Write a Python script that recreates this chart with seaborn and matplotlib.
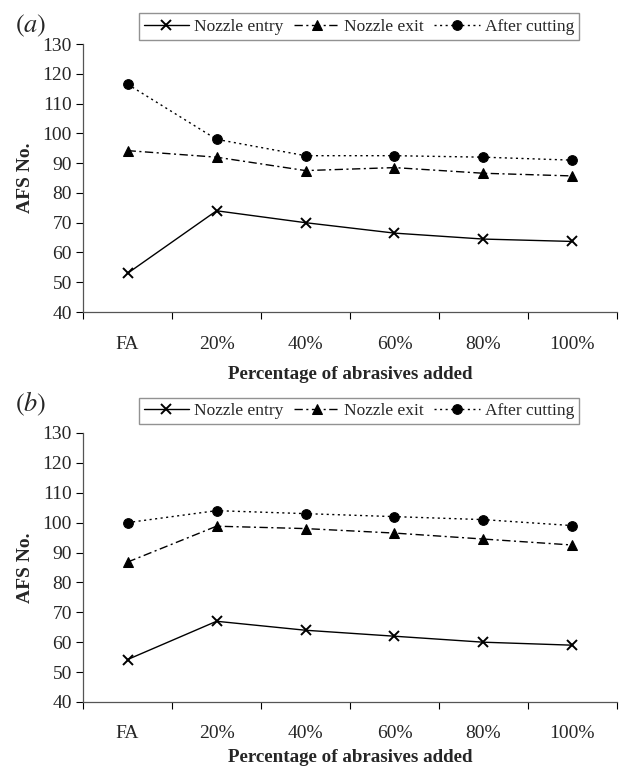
import numpy as np
import pandas as pd
import seaborn as sns
import matplotlib
matplotlib.use("Agg")
import matplotlib.pyplot as plt

categories = ["FA", "20%", "40%", "60%", "80%", "100%"]
series_names = ["Nozzle entry", "Nozzle exit", "After cutting"]

a_entry = [53, 74, 70, 66.5, 64.5, 63.7]
a_exit = [94.2, 92, 87.5, 88.5, 86.6, 85.7]
a_after = [116.5, 98, 92.5, 92.5, 92, 91]

b_entry = [54.2, 67, 64, 62, 60, 59]
b_exit = [86.8, 98.8, 98, 96.5, 94.5, 92.5]
b_after = [100, 104, 103, 102, 101, 99]

y_ticks = list(range(40, 131, 10))

sns.set_theme(style="white")
plt.rcParams["font.family"] = ["Liberation Serif", "DejaVu Serif"]
plt.rcParams["mathtext.fontset"] = "stix"

fig = plt.figure(figsize=(6.2, 7.71), dpi=100)

common = dict(markeredgecolor="black", markerfacecolor="black")
styles = {
    "Nozzle entry": dict(marker="x", linestyle="-", markersize=6.5, markeredgewidth=1.4, **common),
    "Nozzle exit": dict(marker="^", linestyle=(0, (6, 2.5, 1.5, 2.5)), markersize=7, **common),
    "After cutting": dict(marker="o", linestyle=(0, (1.5, 2.5)), markersize=7, **common),
}


def draw_panel(ax, entry, exit_, after, legend_y, xlabelpad, tickpad):
    values = {"Nozzle entry": entry, "Nozzle exit": exit_, "After cutting": after}
    for name in series_names:
        df = pd.DataFrame({"cat": categories, "val": values[name]})
        sns.lineplot(data=df, x="cat", y="val", ax=ax, color="black",
                     linewidth=1.0, label=name, sort=False, **styles[name])
    ax.set_xlim(-0.5, 5.5)
    ax.set_ylim(40, 130)
    ax.set_yticks(y_ticks)
    ax.set_yticklabels([str(t) for t in y_ticks], fontsize=14)
    ax.set_xticks(range(len(categories)))
    ax.set_xticklabels(categories, fontsize=14)
    ax.set_xticks(np.arange(-0.5, 6.0, 1.0), minor=True)
    ax.tick_params(axis="x", which="major", length=0, pad=tickpad)
    ax.tick_params(axis="x", which="minor", length=5, width=0.8, color="black", direction="out", bottom=True)
    ax.tick_params(axis="y", which="major", length=5, width=0.8, color="black", direction="out", left=True, pad=3)
    for s in ["top", "right"]:
        ax.spines[s].set_visible(False)
    for s in ["left", "bottom"]:
        ax.spines[s].set_color("#555555")
        ax.spines[s].set_linewidth(0.9)
    ax.set_xlabel("Percentage of abrasives added", fontsize=13.7, fontweight="bold", labelpad=xlabelpad)
    ax.set_ylabel("AFS No.", fontsize=14, fontweight="bold", labelpad=6)
    h, l = ax.get_legend_handles_labels()
    ax.get_legend().remove()
    fig.legend(h, l, loc="center", bbox_to_anchor=(0.579, legend_y), ncol=3,
               fontsize=12.5, frameon=True, fancybox=False, edgecolor="#777777",
               handlelength=2.6, handletextpad=0.3, columnspacing=0.6,
               borderpad=0.3, borderaxespad=0)


ax1 = fig.add_axes([0.134, 0.5953, 0.861, 0.3476])
draw_panel(ax1, a_entry, a_exit, a_after, 0.9656, 9, 17.5)
fig.text(0.05, 0.967, r"$(a)$", fontsize=19, ha="center", va="center")

ax2 = fig.add_axes([0.134, 0.0895, 0.861, 0.349])
draw_panel(ax2, b_entry, b_exit, b_after, 0.467, 5, 16.5)
fig.text(0.05, 0.476, r"$(b)$", fontsize=19, ha="center", va="center")

fig.savefig("out.png", dpi=100)
